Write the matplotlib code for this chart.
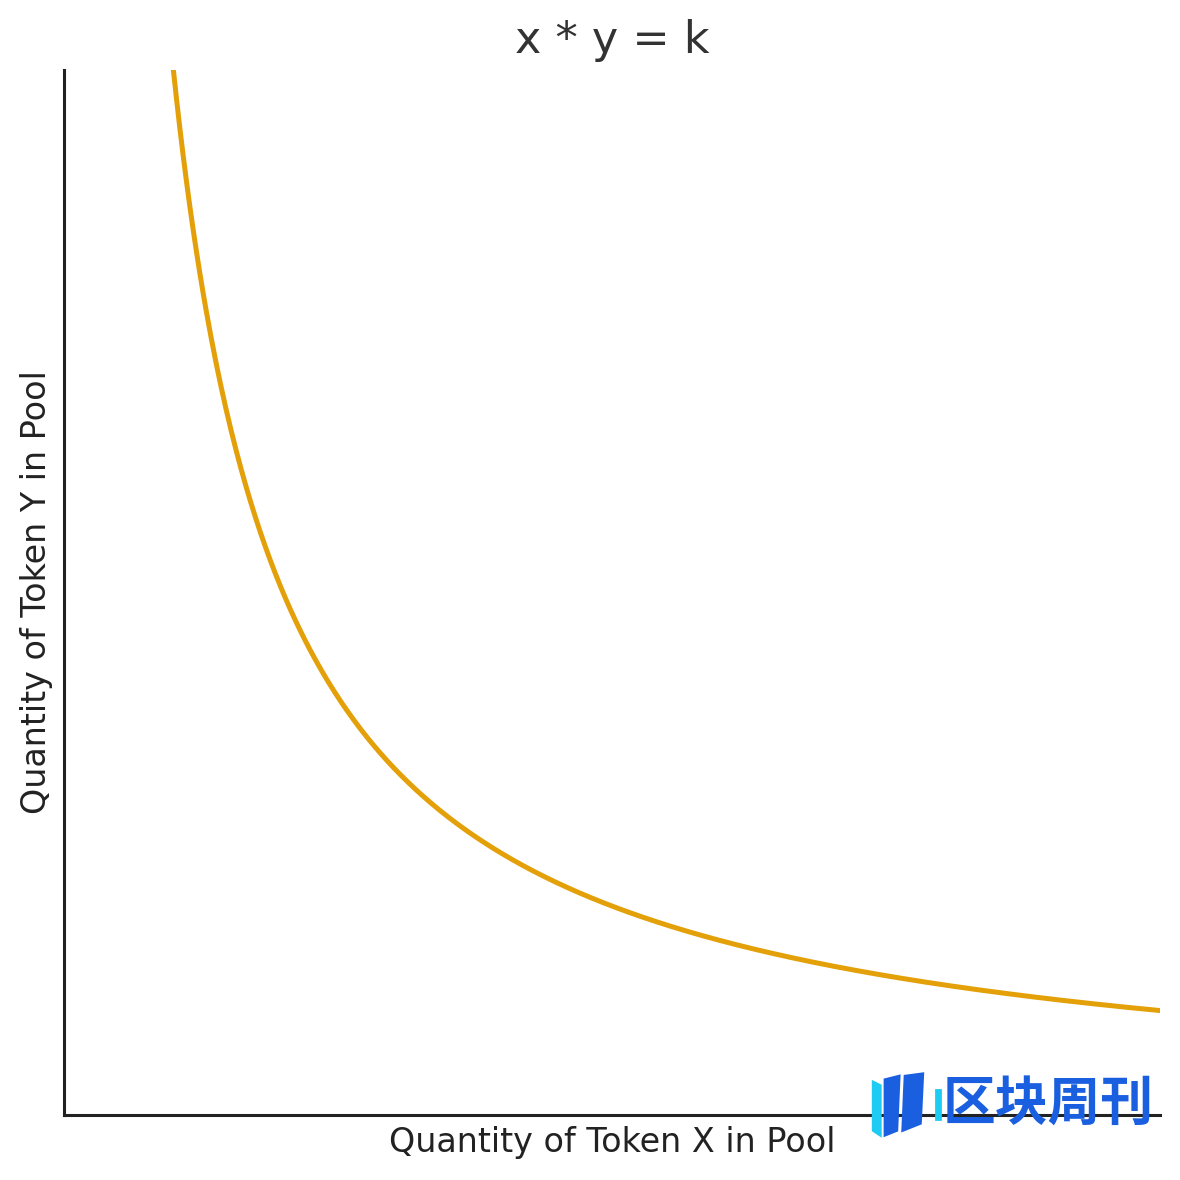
import numpy as np
import matplotlib.pyplot as plt
import seaborn as sns
from matplotlib.patches import Polygon

# constant product curve
k = 1000
x_start, x_end = 10, 100
x_limits = (0, 100)
y_limits = (0, 100)

title = "x * y = k"
x_label = "Quantity of Token X in Pool"
y_label = "Quantity of Token Y in Pool"
watermark = "区块周刊"

sns.set_style("white")
plt.rcParams['font.family'] = ['DejaVu Sans', 'Noto Sans CJK SC']

x = np.linspace(x_start, x_end, 600)
y = k / x

fig = plt.figure(figsize=(5.9, 5.9), dpi=200)
ax = fig.add_axes([0.054, 0.055, 0.929, 0.886])
ax.plot(x, y, color="#e3a008", linewidth=1.8)
ax.set_xlim(*x_limits)
ax.set_ylim(*y_limits)
ax.set_xticks([])
ax.set_yticks([])
for side in ["left", "bottom"]:
    ax.spines[side].set_color("#222222")
    ax.spines[side].set_linewidth(1.1)
sns.despine(ax=ax)

ax.set_title(title, fontsize=16, color="#333333", pad=6)
ax.set_xlabel(x_label, fontsize=12, color="#222222", labelpad=4)
ax.set_ylabel(y_label, fontsize=12, color="#222222", labelpad=4)

# watermark logo: bars + text (figure fractions, y measured from top)
bars = [
    ([0.740, 0.917], [0.746, 0.920], [0.746, 0.962], [0.740, 0.958], "#1ecbf2"),
    ([0.750, 0.915], [0.762, 0.912], [0.760, 0.958], [0.750, 0.962], "#1a5fe0"),
    ([0.767, 0.912], [0.782, 0.910], [0.780, 0.952], [0.765, 0.958], "#1a5fe0"),
    ([0.793, 0.924], [0.797, 0.924], [0.797, 0.948], [0.793, 0.948], "#1ecbf2"),
]
for a, b, c, d, col in bars:
    pts = [(a[0], 1 - a[1]), (b[0], 1 - b[1]), (c[0], 1 - c[1]), (d[0], 1 - d[1])]
    fig.patches.append(Polygon(pts, closed=True, color=col, transform=fig.transFigure, zorder=5))
fig.text(0.799, 0.051, watermark, fontsize=19, color="#1a5fe0",
         family=['Noto Sans CJK SC', 'DejaVu Sans'], fontweight='bold', zorder=6)

fig.savefig("out.png", dpi=200)
